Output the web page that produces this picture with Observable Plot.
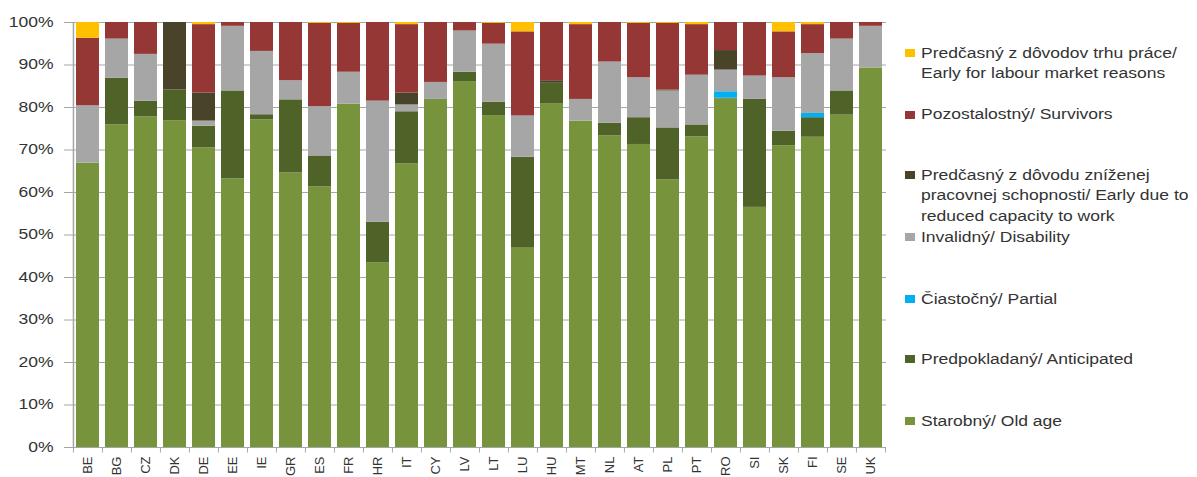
<!DOCTYPE html>
<html><head><meta charset="utf-8">
<script src="https://cdn.jsdelivr.net/npm/d3@7"></script>
<script src="https://cdn.jsdelivr.net/npm/@observablehq/plot@0.6"></script>
<style>
html,body{margin:0;padding:0;background:#fff;overflow:hidden;}
#wrap{position:relative;width:1197px;height:477px;font-family:"Liberation Sans",Arial,sans-serif;}
#chart{position:absolute;left:0;top:0;}
.lg-sw{position:absolute;width:10px;height:8px;}
.lg-tx{position:absolute;font-size:14px;line-height:20.5px;color:#333;white-space:nowrap;transform:scaleX(1.25);transform-origin:0 0;}
</style></head><body>
<div id="wrap"><div id="chart"></div><div id="legend"></div></div>
<script>
// ---- data ----
const countries = ["BE","BG","CZ","DK","DE","EE","IE","GR","ES","FR","HR","IT","CY","LV","LT","LU","HU","MT","NL","AT","PL","PT","RO","SI","SK","FI","SE","UK"];
const oldAge       = [66.9,75.9,77.8,76.9,70.5,63.2,77.1,64.6,61.3,80.8,43.5,66.7,81.9,86.1,78.1,46.9,80.8,76.8,73.3,71.3,63.0,73.1,82.0,56.5,71.0,73.0,78.2,89.3];
const anticipated  = [0,11.0,3.7,7.2,5.1,20.7,1.2,17.2,7.3,0,9.5,12.3,0,2.2,3.1,21.4,4.9,0,3.0,6.3,12.2,2.8,0.2,25.4,3.4,4.6,5.7,0];
const partial      = [0,0,0,0,0,0,0,0,0,0,0,0,0,0,0,0,0,0,0,0,0,0,1.5,0,0,1.0,0,0];
const disability   = [13.5,9.2,11.0,0,1.2,15.2,14.9,4.5,11.6,7.5,28.5,1.6,4.0,9.7,13.7,9.7,0,5.1,14.4,9.4,8.7,11.7,5.1,5.5,12.6,14.1,12.2,9.8];
const earlyReduced = [0,0,0,15.9,6.6,0,0,0,0,0,0,2.8,0,0,0,0,0.6,0,0,0,0.2,0,4.6,0,0,0,0,0];
const survivors    = [15.9,3.9,7.5,0,16.1,0.9,6.8,13.7,19.6,11.5,18.5,16.1,14.1,2.0,4.9,19.8,13.7,17.6,9.3,12.8,15.7,11.9,6.6,12.6,10.8,6.8,3.9,0.9];
const earlyLabour  = [3.7,0,0,0,0.5,0,0,0,0.2,0.2,0,0.5,0,0,0.2,2.2,0,0.5,0,0.2,0.2,0.5,0,0,2.2,0.5,0,0];
const seriesKeys = [
  "Starobný/ Old age",
  "Predpokladaný/ Anticipated",
  "Čiastočný/ Partial",
  "Invalidný/ Disability",
  "Predčasný z dôvodu zníženej pracovnej schopnosti/ Early due to reduced capacity to work",
  "Pozostalostný/ Survivors",
  "Predčasný z dôvodov trhu práce/ Early for labour market reasons"
];
const seriesColors = ["#77933C","#4F6228","#00B0F0","#A6A6A6","#494429","#953735","#FFC000"];
const yTicks = [0,10,20,30,40,50,60,70,80,90,100];
// legend (top to bottom) with line breaks as in the reference
const legendLines = [
  ["Predčasný z dôvodov trhu práce/","Early for labour market reasons"],
  ["Pozostalostný/ Survivors"],
  ["Predčasný z dôvodu zníženej","pracovnej schopnosti/ Early due to","reduced capacity to work"],
  ["Invalidný/ Disability"],
  ["Čiastočný/ Partial"],
  ["Predpokladaný/ Anticipated"],
  ["Starobný/ Old age"]
];
const legendOrder = [6,5,4,3,2,1,0];

// ---- table ----
const seriesData = [oldAge, anticipated, partial, disability, earlyReduced, survivors, earlyLabour];
const table = [];
seriesKeys.forEach((s, i) => countries.forEach((c, j) => {
  if (seriesData[i][j] > 0) table.push({country: c, series: s, value: seriesData[i][j]});
}));

// ---- layout ----
const W = 900, H = 477, mL = 71, mR = 14, mT = 22, mB = 30;
const step = (W - mL - mR) / countries.length;
const axisColor = "#a6a6a6";

const chart = Plot.plot({
  width: W, height: H,
  marginLeft: mL, marginRight: mR, marginTop: mT, marginBottom: mB,
  style: {fontFamily: "'Liberation Sans', Arial, sans-serif", fontSize: "14px", color: "#333", background: "white", overflow: "visible"},
  x: {domain: countries, paddingInner: 0.22, paddingOuter: 0.11, axis: null, label: null},
  y: {domain: [0, 100], axis: null, label: null},
  color: {domain: seriesKeys, range: seriesColors},
  marks: [
    Plot.ruleY(yTicks, {stroke: axisColor, strokeWidth: 1}),
    Plot.barY(table, {x: "country", y: "value", fill: "series", order: seriesKeys}),
    Plot.ruleX([countries[0]], {x: d => d, dx: -step / 2, y1: 0, y2: 100, stroke: axisColor, strokeWidth: 1.5}),
    Plot.ruleX(countries, {x: d => d, dx: -step / 2, y1: 0, y2: -1.3, stroke: axisColor}),
    Plot.ruleX([countries[countries.length - 1]], {x: d => d, dx: step / 2, y1: 0, y2: -1.3, stroke: axisColor}),
    Plot.axisY({ticks: yTicks, tickFormat: d => d + "%", tickSize: 7, tickPadding: 11, stroke: axisColor, fill: "#333", fontSize: 14, label: null}),
    Plot.axisX({tickSize: 0, tickPadding: 9, tickRotate: -90, fontSize: 13, fill: "#333", label: null})
  ]
});
document.getElementById("chart").appendChild(chart);

// widen the y tick labels like the reference
chart.querySelectorAll('g[aria-label="y-axis tick label"] text').forEach(t => {
  const L = t.getComputedTextLength();
  t.setAttribute("textLength", (L * 1.25).toFixed(1));
  t.setAttribute("lengthAdjust", "spacingAndGlyphs");
});

// ---- legend ----
const legendCenters = [53, 114.5, 175, 237, 299, 359, 421];
const lg = document.getElementById("legend");
legendOrder.forEach((si, k) => {
  const cy = legendCenters[k];
  const sw = document.createElement("div");
  sw.className = "lg-sw";
  sw.style.left = "905px";
  sw.style.top = (cy - 4) + "px";
  sw.style.background = seriesColors[si];
  lg.appendChild(sw);
  const tx = document.createElement("div");
  tx.className = "lg-tx";
  tx.style.left = "921px";
  tx.style.top = (cy - 10.25) + "px";
  tx.innerHTML = legendLines[k].join("<br>");
  lg.appendChild(tx);
});
</script>
</body></html>
